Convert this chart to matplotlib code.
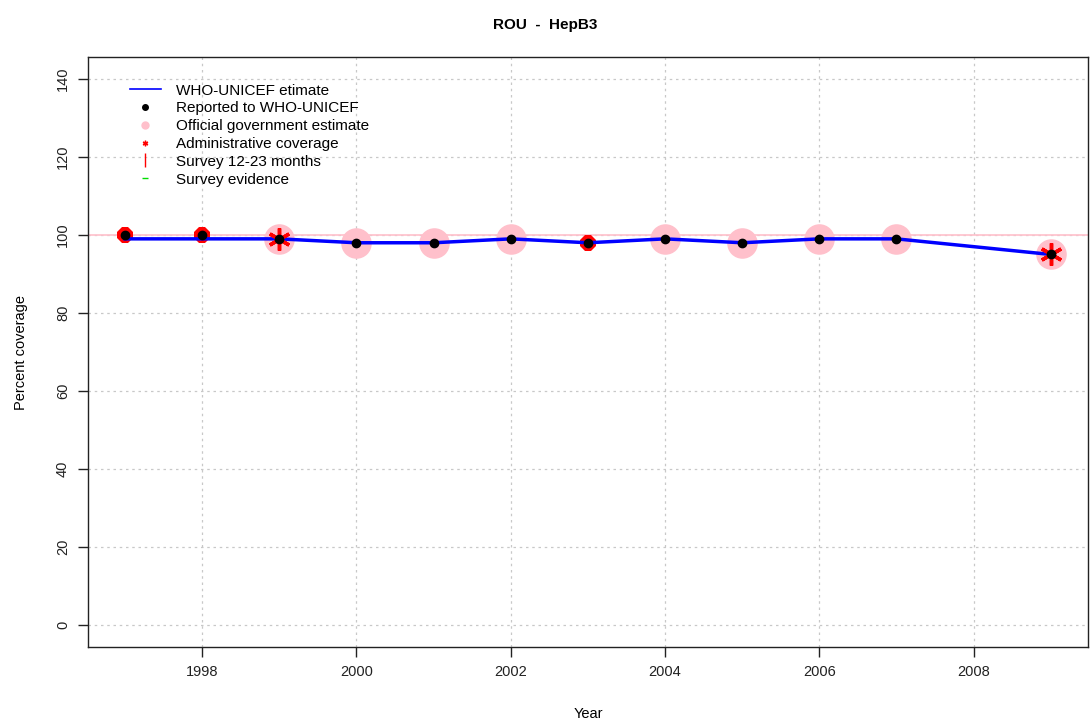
import matplotlib
matplotlib.use("Agg")
import matplotlib.pyplot as plt
from matplotlib.lines import Line2D

# data
years = [1997, 1998, 1999, 2000, 2001, 2002, 2003, 2004, 2005, 2006, 2007, 2008, 2009]
wuenic = [99, 99, 99, 98, 98, 99, 98, 99, 98, 99, 99, 97, 95]

rep_years = [1997, 1998, 1999, 2000, 2001, 2002, 2003, 2004, 2005, 2006, 2007, 2009]
reported = [100, 100, 99, 98, 98, 99, 98, 99, 98, 99, 99, 95]

gov_years = [1999, 2000, 2001, 2002, 2004, 2005, 2006, 2007, 2009]
gov = [99, 98, 98, 99, 99, 98, 99, 99, 95]

admin_years = [1999, 2009]
admin = [99, 95]
admin_small_years = [1997, 1998, 2003]
admin_small = [100, 100, 98]

xticks = [1998, 2000, 2002, 2004, 2006, 2008]
yticks = [0, 20, 40, 60, 80, 100, 120, 140]

plt.rcParams['font.family'] = ['Liberation Sans', 'DejaVu Sans']

fig = plt.figure(figsize=(10.9, 7.19), dpi=100)
ax = fig.add_axes([0.0807, 0.1001, 0.9173, 0.8206])

ax.set_xlim(1996.52, 2009.48)
ax.set_ylim(-5.6, 145.6)

for x in xticks:
    ax.axvline(x, color='#c8c8c8', linestyle=(0, (2, 3)), linewidth=0.9, zorder=0)
for y in yticks:
    ax.axhline(y, color='#c8c8c8', linestyle=(0, (2, 3)), linewidth=0.9, zorder=0)

ax.axhline(100, color='pink', linewidth=1.2, zorder=1)

ax.plot(gov_years, gov, 'o', color='pink', markersize=22, markeredgewidth=0, zorder=2)
ax.plot(admin_small_years, admin_small, '8', color='red', markersize=12, markeredgewidth=0, zorder=3)
ax.plot(years, wuenic, color='blue', linewidth=2.5, zorder=4)
ax.plot(admin_years, admin, marker=(6, 2, 0), color='red', linestyle='none',
        markersize=16, markeredgewidth=2.5, zorder=5)
ax.plot(rep_years, reported, 'o', color='black', markersize=6, zorder=6)

ax.set_xticks(xticks)
ax.set_yticks(yticks)
ax.tick_params(axis='both', labelsize=10.5, length=7, width=1, pad=6, colors='#222222')
for lab in ax.get_yticklabels():
    lab.set_rotation(90)
    lab.set_va('center')
for s in ax.spines.values():
    s.set_linewidth(1)
    s.set_color('#222222')

ax.set_xlabel('Year', fontsize=10.5, labelpad=20)
ax.set_ylabel('Percent coverage', fontsize=10.5, labelpad=20)
fig.suptitle('ROU  -  HepB3', fontsize=11, fontweight='bold', y=0.975)

handles = [
    Line2D([], [], color='blue', linewidth=1.2),
    Line2D([], [], marker='o', color='black', linestyle='none', markersize=4),
    Line2D([], [], marker='o', color='pink', linestyle='none', markersize=5),
    Line2D([], [], marker=(6, 2, 0), color='red', linestyle='none', markersize=4, markeredgewidth=1),
    Line2D([], [], marker='|', color='red', linestyle='none', markersize=10),
    Line2D([], [], marker='_', color='#00dd00', linestyle='none', markersize=4),
]
labels = ['WHO-UNICEF etimate', 'Reported to WHO-UNICEF', 'Official government estimate',
          'Administrative coverage', 'Survey 12-23 months', 'Survey evidence']
ax.legend(handles, labels, loc='upper left', bbox_to_anchor=(0.042, 0.955), frameon=False,
          fontsize=11, handlelength=2.0, handletextpad=1.0, labelspacing=0.25,
          borderaxespad=0, borderpad=0)

fig.savefig('out.png', dpi=100)
